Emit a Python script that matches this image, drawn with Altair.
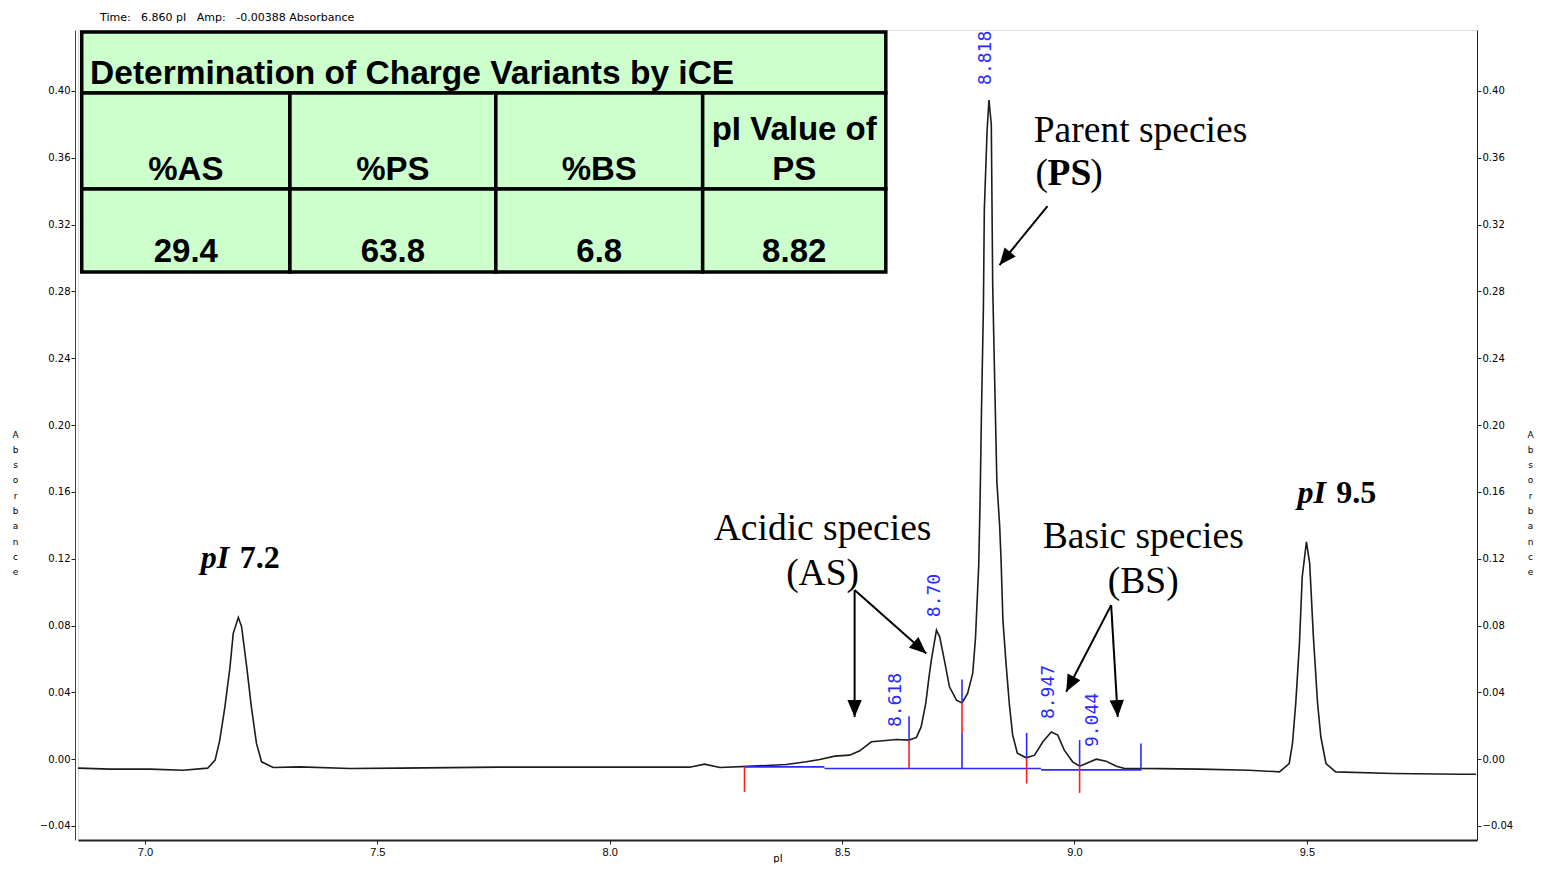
import math
import altair as alt
import pandas as pd

# ---------------- data ----------------
trace_pI = [6.856, 6.925, 7.011, 7.082, 7.135, 7.151, 7.161, 7.172, 7.183, 7.190,
            7.201, 7.208, 7.219, 7.229, 7.240, 7.251, 7.276, 7.333, 7.441, 7.548,
            7.763, 7.978, 8.172, 8.204, 8.237, 8.308, 8.380, 8.423, 8.452, 8.484,
            8.516, 8.538, 8.563, 8.588, 8.617, 8.644, 8.660, 8.670, 8.680, 8.687,
            8.692, 8.703, 8.710, 8.720, 8.731, 8.746, 8.758, 8.770, 8.781, 8.787,
            8.794, 8.797, 8.800, 8.804, 8.806, 8.812, 8.816, 8.821, 8.824, 8.828,
            8.833, 8.839, 8.842, 8.846, 8.853, 8.860, 8.867, 8.877, 8.896, 8.914,
            8.932, 8.950, 8.964, 8.978, 8.996, 9.011, 9.025, 9.047, 9.068, 9.090,
            9.108, 9.140, 9.183, 9.269, 9.376, 9.441, 9.462, 9.469, 9.476, 9.484,
            9.490, 9.499, 9.506, 9.514, 9.523, 9.530, 9.541, 9.562, 9.685, 9.828,
            9.864]
trace_abs = [-0.0054, -0.0060, -0.0060, -0.0066, -0.0054, -0.0006, 0.0114, 0.0311, 0.0551, 0.0753,
             0.0848, 0.0792, 0.0553, 0.0313, 0.0094, -0.0016, -0.0050, -0.0046, -0.0056, -0.0054,
             -0.0048, -0.0048, -0.0048, -0.0030, -0.0050, -0.0042, -0.0032, -0.0016, -0.0002, 0.0018,
             0.0024, 0.0050, 0.0104, 0.0110, 0.0118, 0.0114, 0.0130, 0.0193, 0.0334, 0.0493,
             0.0593, 0.0772, 0.0732, 0.0593, 0.0433, 0.0353, 0.0337, 0.0393, 0.0513, 0.0725,
             0.1163, 0.1565, 0.2102, 0.2702, 0.3290, 0.3766, 0.3946, 0.3799, 0.2838, 0.2302,
             0.1660, 0.1395, 0.1192, 0.0832, 0.0563, 0.0323, 0.0144, 0.0036, 0.0008, 0.0024,
             0.0104, 0.0163, 0.0144, 0.0054, -0.0016, -0.0042, -0.0026, 0.0000, -0.0012, -0.0042,
             -0.0056, -0.0056, -0.0057, -0.0060, -0.0066, -0.0076, -0.0026, 0.0094, 0.0334, 0.0693,
             0.1092, 0.1301, 0.1172, 0.0732, 0.0334, 0.0134, -0.0026, -0.0076, -0.0086, -0.0090,
             -0.0090]
assert len(trace_pI) == len(trace_abs)

# integration baseline segments (blue)
seg_start = [8.290, 8.462, 8.928]
seg_end = [8.462, 8.928, 9.144]
seg_abs = [-0.0046, -0.0056, -0.0064]

# integration marks (vertical ticks)
mark_pI = [8.290, 8.644, 8.644, 8.758, 8.758, 8.758, 8.897, 8.897, 9.011, 9.011, 9.143]
mark_top = [-0.0046, 0.0257, 0.0114, 0.0477, 0.0337, 0.0157, 0.0157, 0.0008, 0.0114, -0.0042, 0.0094]
mark_bot = [-0.0196, 0.0114, -0.0056, 0.0337, 0.0157, -0.0056, 0.0008, -0.0146, -0.0042, -0.0202, -0.0064]
mark_kind = ["red", "blue", "red", "blue", "red", "blue", "blue", "red", "blue", "red", "blue"]

# peak apex labels
peak_labels = ["8.618", "8.70", "8.818", "8.947", "9.044"]
peak_label_pI = [8.617, 8.700, 8.810, 8.946, 9.039]
peak_label_abs = [0.0192, 0.0850, 0.4036, 0.0240, 0.0072]

# arrows (start -> tip)
arrow_x0 = [8.9419, 8.5269, 8.5269, 9.0789, 9.0789]
arrow_y0 = [0.3311, 0.1012, 0.1012, 0.0922, 0.0922]
arrow_x1 = [8.8387, 8.5269, 8.6811, 8.9822, 9.0931]
arrow_y1 = [0.2958, 0.0253, 0.0633, 0.0403, 0.0253]

# annotation texts
ann_text = ["Parent species", "Acidic species", "(AS)", "Basic species", "(BS)"]
ann_pI = [9.142, 8.458, 8.458, 9.148, 9.148]
ann_abs = [0.3695, 0.1311, 0.1042, 0.1263, 0.0994]

ps_parts = ["(", "PS", ")"]
ps_pI = [8.916, 8.942, 9.034]
ps_weight = ["normal", "bold", "normal"]
ps_abs = 0.3437

pi_marks = ["pI", "pI"]
pi_mark_pI = [7.120, 9.480]
pi_values = ["7.2", "9.5"]
pi_value_pI = [7.204, 9.563]
pi_abs = [0.1144, 0.1533]

# summary table
table_title = "Determination of Charge Variants by iCE"
table_headers = ["%AS", "%PS", "%BS", "PS"]
table_header2 = ["", "", "", "pI Value of"]
table_values = ["29.4", "63.8", "6.8", "8.82"]
col_edges = [6.864, 7.312, 7.755, 8.200, 8.594]
row_edges = [0.4353, 0.3988, 0.3413, 0.2916]

x_ticks = [7.0, 7.5, 8.0, 8.5, 9.0, 9.5]
y_ticks = [-0.04, 0.00, 0.04, 0.08, 0.12, 0.16, 0.20, 0.24, 0.28, 0.32, 0.36, 0.40]

# ---------------- chart ----------------
X_DOM = [6.856, 9.866]
Y_DOM = [-0.0484, 0.4365]
W, H = 1399, 810
BLUE = "#2a2aff"
RED = "#ff1e1e"
SERIF = "Liberation Serif"
SANS = "Liberation Sans"
UI = "DejaVu Sans"


def px(v):
    return (v - X_DOM[0]) / (X_DOM[1] - X_DOM[0]) * W


def py(v):
    return (Y_DOM[1] - v) / (Y_DOM[1] - Y_DOM[0]) * H


xs = alt.Scale(domain=X_DOM, nice=False, zero=False)
ys = alt.Scale(domain=Y_DOM, nice=False, zero=False)

stacked = list("Absorbance")

x_axis = alt.Axis(values=x_ticks, format=".1f", title="pI", tickSize=4, grid=False,
                  labelFont="Liberation Sans Narrow, Liberation Sans", labelFontSize=11,
                  labelPadding=2, labelColor="black", titleFont=UI, titleFontSize=10,
                  titleFontWeight="normal", titleY=18, titleBaseline="middle",
                  domainColor="#222", domainWidth=2, tickColor="#222", titleColor="black")
left_axis = alt.Axis(values=y_ticks, format=".2f", title=stacked, tickSize=4, offset=3,
                     grid=False, labelFont=UI, labelFontSize=10, labelPadding=1,
                     labelColor="black", titleAngle=0, titleX=-60, titleY=404,
                     titleBaseline="middle", titleAlign="center", titleLineHeight=15.3,
                     titleFont=UI, titleFontSize=9, titleFontWeight="normal",
                     titleColor="black", domainColor="#444", tickColor="#222")
right_axis = alt.Axis(values=y_ticks, format=".2f", title=stacked, orient="right", tickSize=4,
                      grid=False, labelFont=UI, labelFontSize=10, labelPadding=1,
                      labelColor="black", titleAngle=0, titleX=53, titleY=404,
                      titleBaseline="middle", titleAlign="center", titleLineHeight=15.3,
                      titleFont=UI, titleFontSize=9, titleFontWeight="normal",
                      titleColor="black", domainColor="#222", tickColor="#222")

trace_df = pd.DataFrame({"pI": trace_pI, "abs": trace_abs})
trace = alt.Chart(trace_df).mark_line(color="#1c1c1c", strokeWidth=1.6).encode(
    x=alt.X("pI:Q", scale=xs, axis=x_axis),
    y=alt.Y("abs:Q", scale=ys, axis=left_axis),
)
right = alt.Chart(trace_df).mark_line(opacity=0).encode(
    x=alt.X("pI:Q", scale=xs, axis=None),
    y=alt.Y("abs:Q", scale=ys, axis=right_axis),
)

seg_df = pd.DataFrame({"x": seg_start, "x2": seg_end, "y": seg_abs})
segs = alt.Chart(seg_df).mark_rule(color=BLUE, strokeWidth=1.6).encode(
    x=alt.X("x:Q", scale=xs, axis=None), x2="x2:Q",
    y=alt.Y("y:Q", scale=ys, axis=None),
)

mk_df = pd.DataFrame({"x": mark_pI, "y": mark_top, "y2": mark_bot,
                      "c": [RED if k == "red" else BLUE for k in mark_kind]})
marks = alt.Chart(mk_df).mark_rule(strokeWidth=1.6).encode(
    x=alt.X("x:Q", scale=xs, axis=None),
    y=alt.Y("y:Q", scale=ys, axis=None), y2="y2:Q",
    color=alt.Color("c:N", scale=None),
)

pl_df = pd.DataFrame({"x": peak_label_pI, "y": peak_label_abs, "t": peak_labels})
plabels = alt.Chart(pl_df).mark_text(angle=270, align="left", baseline="middle",
                                     font="DejaVu Sans Mono", fontSize=18, color=BLUE).encode(
    x=alt.X("x:Q", scale=xs, axis=None), y=alt.Y("y:Q", scale=ys, axis=None), text="t:N")

angles = []
for a, b, c, d in zip(arrow_x0, arrow_y0, arrow_x1, arrow_y1):
    dx = px(c) - px(a)
    dy = py(d) - py(b)
    angles.append(math.degrees(math.atan2(dx, -dy)) % 360)
ar_df = pd.DataFrame({"x": arrow_x0, "y": arrow_y0, "x2": arrow_x1, "y2": arrow_y1, "ang": angles})
arrows = alt.Chart(ar_df).mark_rule(color="black", strokeWidth=2).encode(
    x=alt.X("x:Q", scale=xs, axis=None), y=alt.Y("y:Q", scale=ys, axis=None),
    x2="x2:Q", y2="y2:Q")
heads = alt.Chart(ar_df).mark_point(shape="M0,0L-0.9,2.1L0.9,2.1Z", filled=True, opacity=1,
                                    color="black", size=256, strokeWidth=0).encode(
    x=alt.X("x2:Q", scale=xs, axis=None), y=alt.Y("y2:Q", scale=ys, axis=None),
    angle=alt.Angle("ang:Q", scale=None))

an_df = pd.DataFrame({"x": ann_pI, "y": ann_abs, "t": ann_text})
ann = alt.Chart(an_df).mark_text(font=SERIF, fontSize=37.5, align="center", baseline="alphabetic",
                                 color="black").encode(
    x=alt.X("x:Q", scale=xs, axis=None), y=alt.Y("y:Q", scale=ys, axis=None), text="t:N")

ps_df = pd.DataFrame({"x": ps_pI, "y": [ps_abs] * 3, "t": ps_parts, "w": ps_weight})
ps_norm = alt.Chart(ps_df[ps_df.w == "normal"]).mark_text(
    font=SERIF, fontSize=37.5, align="left", baseline="alphabetic", color="black").encode(
    x=alt.X("x:Q", scale=xs, axis=None), y=alt.Y("y:Q", scale=ys, axis=None), text="t:N")
ps_bold = alt.Chart(ps_df[ps_df.w == "bold"]).mark_text(
    font=SERIF, fontSize=37.5, fontWeight="bold", align="left", baseline="alphabetic",
    color="black").encode(
    x=alt.X("x:Q", scale=xs, axis=None), y=alt.Y("y:Q", scale=ys, axis=None), text="t:N")

pim_df = pd.DataFrame({"x": pi_mark_pI, "y": pi_abs, "t": pi_marks})
piv_df = pd.DataFrame({"x": pi_value_pI, "y": pi_abs, "t": pi_values})
pim = alt.Chart(pim_df).mark_text(font=SERIF, fontSize=32, fontWeight="bold", fontStyle="italic",
                                  align="left", baseline="alphabetic", color="black").encode(
    x=alt.X("x:Q", scale=xs, axis=None), y=alt.Y("y:Q", scale=ys, axis=None), text="t:N")
piv = alt.Chart(piv_df).mark_text(font=SERIF, fontSize=32, fontWeight="bold",
                                  align="left", baseline="alphabetic", color="black").encode(
    x=alt.X("x:Q", scale=xs, axis=None), y=alt.Y("y:Q", scale=ys, axis=None), text="t:N")

# table cells
cells = [{"x": col_edges[0], "x2": col_edges[-1], "y": row_edges[0], "y2": row_edges[1]}]
for r in (1, 2):
    for c in range(4):
        cells.append({"x": col_edges[c], "x2": col_edges[c + 1], "y": row_edges[r], "y2": row_edges[r + 1]})
cell_df = pd.DataFrame(cells)
table_rect = alt.Chart(cell_df).mark_rect(fill="#ccffcc", stroke="black", strokeWidth=3.5).encode(
    x=alt.X("x:Q", scale=xs, axis=None), x2="x2:Q",
    y=alt.Y("y:Q", scale=ys, axis=None), y2="y2:Q")

centers = [(col_edges[i] + col_edges[i + 1]) / 2 for i in range(4)]
ttxt = [{"x": col_edges[0] + 0.018, "y": 0.4042, "t": table_title, "a": "left"}]
for i in range(4):
    ttxt.append({"x": centers[i], "y": 0.3467, "t": table_headers[i], "a": "center"})
    if table_header2[i]:
        ttxt.append({"x": centers[i], "y": 0.3707, "t": table_header2[i], "a": "center"})
    ttxt.append({"x": centers[i], "y": 0.2976, "t": table_values[i], "a": "center"})
tt_df = pd.DataFrame(ttxt)
t_left = alt.Chart(tt_df[tt_df.a == "left"]).mark_text(
    font=SANS, fontSize=33.5, fontWeight="bold", align="left", baseline="alphabetic",
    color="black").encode(
    x=alt.X("x:Q", scale=xs, axis=None), y=alt.Y("y:Q", scale=ys, axis=None), text="t:N")
t_center = alt.Chart(tt_df[tt_df.a == "center"]).mark_text(
    font=SANS, fontSize=33, fontWeight="bold", align="center", baseline="alphabetic",
    color="black").encode(
    x=alt.X("x:Q", scale=xs, axis=None), y=alt.Y("y:Q", scale=ys, axis=None), text="t:N")

NB = "\u00a0"
title_text = f"Time:{NB*3}6.860 pI{NB*3}Amp:{NB*3}-0.00388 Absorbance"

chart = alt.layer(
    trace, right, segs, marks, plabels, arrows, heads, ann, ps_norm, ps_bold, pim, piv,
    table_rect, t_left, t_center,
).resolve_axis(y="independent", x="independent").properties(
    width=W, height=H,
    title=alt.TitleParams(text=title_text, anchor="start", frame="group", fontSize=11,
                          font=UI, fontWeight="normal", color="black", offset=7, dx=22),
    padding={"left": 70, "top": 22, "right": 58, "bottom": 23},
    autosize=alt.AutoSizeParams(type="none"),
).configure_view(stroke="#222", strokeWidth=1.5).configure(background="white")

chart.save("out.html", embed_options={"renderer": "svg", "actions": False})
